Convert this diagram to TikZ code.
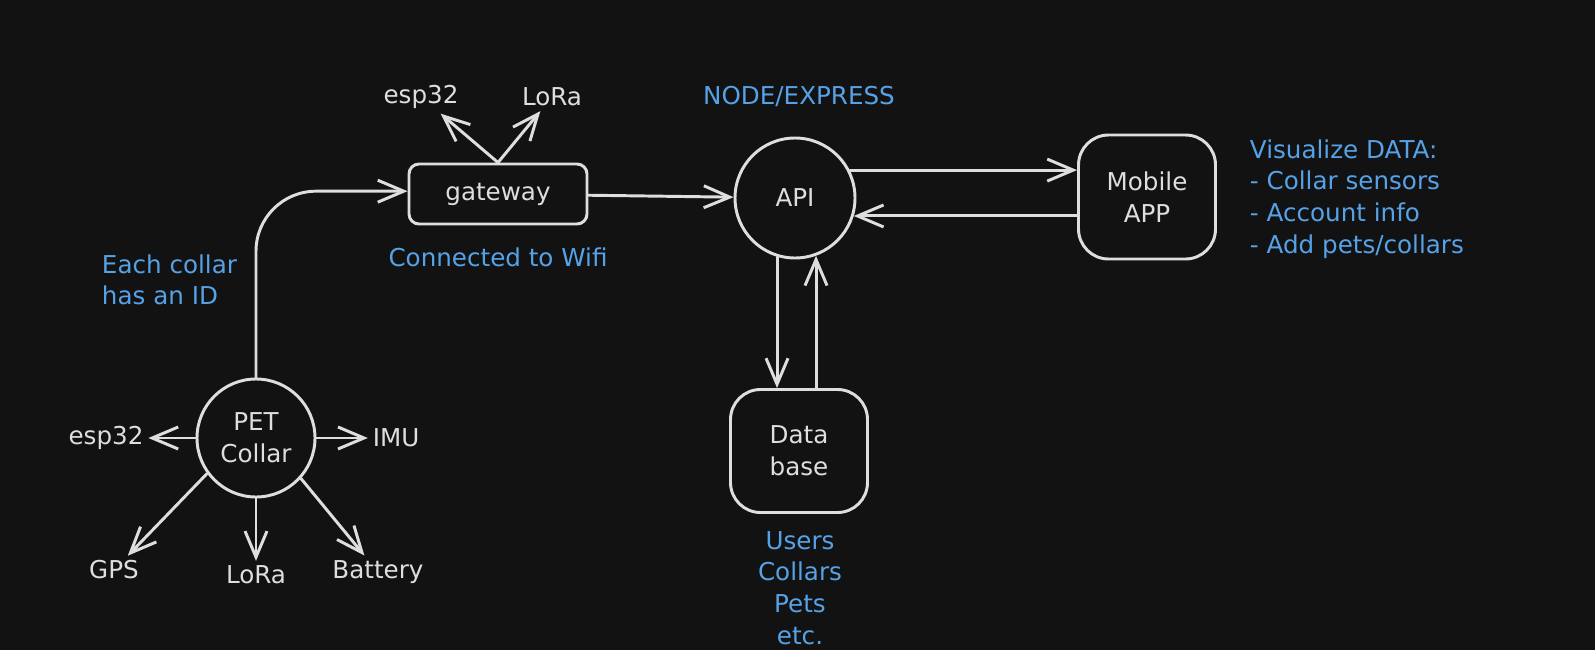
\documentclass[tikz,border=0pt]{standalone}
\usepackage{fontspec}
\setmainfont{DejaVu Sans}
\usetikzlibrary{arrows.meta}
\definecolor{bgdark}{HTML}{121212}
\definecolor{chalk}{HTML}{DEDEDE}
\definecolor{skyblue}{HTML}{56A2E8}

\begin{document}
\begin{tikzpicture}[x=0.25mm,y=-0.25mm]
    \tikzstyle{every node}=[font=\fontsize{17.5}{22.5}\selectfont, text=chalk]
    \tikzstyle{box}=[draw=chalk, line width=2.1pt, rounded corners=2.5mm, minimum width=44.5mm, minimum height=15mm]
    \tikzstyle{bigbox}=[box, rounded corners=7.5mm, minimum width=34.25mm, minimum height=31mm, align=center]
    \tikzstyle{bubble}=[draw=chalk, line width=2.1pt, circle, minimum size=29.5mm, inner sep=0pt, align=center]
    \tikzstyle{note}=[text=skyblue, align=left]
    \tikzstyle{arr}=[draw=chalk, line width=2.1pt, line cap=round, line join=round, -{Straight Barb[length=6.5mm,width=5.5mm]}]

    \fill[bgdark] (0,0) rectangle (1595,650);
    \useasboundingbox (0,0) rectangle (1595,650);

    % main blocks
    \node[bubble] (collar) at (256,438) {PET\\Collar};
    \node[box] (gateway) at (498,194) {gateway};
    \node[bubble, minimum size=30mm] (api) at (795,198) {API};
    \node[bigbox] (mobile) at (1147,197) {Mobile\\APP};
    \node[bigbox, minimum height=30.75mm] (db) at (799,451) {Data\\base};

    % parts of the collar
    \node (cesp) at (106,438) {esp32};
    \node (imu) at (396,438) {IMU};
    \node (gps) at (114,570) {GPS};
    \node (clora) at (256,575) {LoRa};
    \node (cbat) at (378,572) {Battery};

    % parts of the gateway
    \node (gwesp) at (421,97) {esp32};
    \node (gwlora) at (552,97) {LoRa};

    % notes
    \node[note] (idnote) at (97,280) [anchor=west] {Each collar\\has an ID};
    \node[note] (wifi) at (498,257) {Connected to Wifi};
    \node[note] (express) at (799,97) {NODE/EXPRESS};
    \node[note] (appnote) at (1245,199) [anchor=west] {Visualize DATA:\\- Collar sensors\\- Account info\\- Add pets/collars};
    \node[note, align=center] (dbnote) at (800,588) {Users\\Collars\\Pets\\etc.};

    % collar
    \draw[arr] (collar.west) -- (cesp.east);
    \draw[arr] (collar.east) -- (imu.west);
    \draw[arr] (collar.-144) -- ([shift={(18,-28)}]gps);
    \draw[arr] (collar.south) -- (collar.south |- clora.north);
    \draw[arr] (collar.-42) -- ([shift={(0,-19)}]cbat);
    \draw[arr, rounded corners=15mm] (collar.north) |- ([yshift=0.7mm]gateway.west);

    % gateway
    \draw[arr] (gateway.north) -- ([shift={(5,21)}]gwesp);
    \draw[arr] (gateway.north) -- ([shift={(-1,25)}]gwlora);
    \draw[arr] (gateway) -- (api);

    % api
    \draw[arr] (api.27) -- (api.27 -| mobile.west);
    \draw[arr] (api.-17 -| mobile.west) -- (api.-17);
    \draw[arr] (api.-107) -- (api.-107 |- db.north);
    \draw[arr] (api.-70 |- db.north) -- (api.-70);
\end{tikzpicture}
\end{document}
